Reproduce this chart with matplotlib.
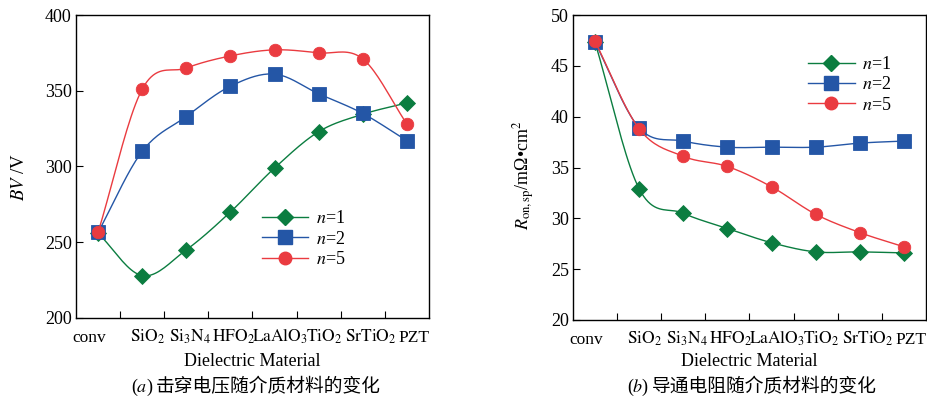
import numpy as np
import matplotlib
matplotlib.use("Agg")
import matplotlib.pyplot as plt
from matplotlib.transforms import ScaledTranslation

plt.rcParams['font.family'] = ['Liberation Serif', 'Noto Sans CJK SC']
plt.rcParams['mathtext.fontset'] = 'stix'
plt.rcParams['font.size'] = 13

# categories on the x axis
materials = ['conv', r'$\mathrm{SiO_2}$', r'$\mathrm{Si_3N_4}$', r'$\mathrm{HFO_2}$',
             r'$\mathrm{LaAlO_3}$', r'$\mathrm{TiO_2}$', r'$\mathrm{SrTiO_2}$', 'PZT']

# (a) breakdown voltage BV / V
bv_n1 = [256, 228, 245, 270, 299, 323, 334.5, 342]
bv_n2 = [256.5, 310, 333, 353, 361, 348, 335, 317]
bv_n5 = [256.5, 351, 365, 373, 377, 375, 371, 328]

# (b) specific on-resistance / mOhm*cm^2
ron_n1 = [47.3, 32.9, 30.5, 29.0, 27.6, 26.7, 26.7, 26.6]
ron_n2 = [47.3, 38.9, 37.6, 37.0, 37.0, 37.0, 37.4, 37.6]
ron_n5 = [47.4, 38.8, 36.1, 35.1, 33.1, 30.4, 28.6, 27.2]

series_names = [r'$n$=1', r'$n$=2', r'$n$=5']
colors = ['#0b7d40', '#2456a6', '#ea3b40']
markers = ['D', 's', 'o']
msizes = [8.5, 9.5, 9]

# small horizontal nudges (px) of the category labels, as in the original figure
label_shift = [-9, 5, 4, 3, 5, 5, 8, 7]


def smooth(x, y, k=20):
    """cubic hermite curve through the points (catmull-rom tangents)"""
    x = np.asarray(x, float)
    y = np.asarray(y, float)
    m = np.gradient(y, x)
    xs, ys = [], []
    for i in range(len(x) - 1):
        t = np.linspace(0, 1, k, endpoint=False)
        h = x[i + 1] - x[i]
        h00 = 2 * t**3 - 3 * t**2 + 1
        h10 = t**3 - 2 * t**2 + t
        h01 = -2 * t**3 + 3 * t**2
        h11 = t**3 - t**2
        ys.append(h00 * y[i] + h10 * h * m[i] + h01 * y[i + 1] + h11 * h * m[i + 1])
        xs.append(x[i] + t * h)
    xs.append([x[-1]])
    ys.append([y[-1]])
    return np.concatenate(xs), np.concatenate(ys)


fig = plt.figure(figsize=(9.28, 4.01), dpi=100)
ax1 = fig.add_axes([76 / 928, 1 - 318 / 401, 353 / 928, 303 / 401])
ax2 = fig.add_axes([573 / 928, 1 - 320 / 401, 353 / 928, 305 / 401])

xpos = np.arange(len(materials)) + 0.5


def draw(ax, data, ylim, yticks):
    for vals, name, c, mk, ms in zip(data, series_names, colors, markers, msizes):
        sx, sy = smooth(xpos, vals)
        ax.plot(sx, sy, color=c, lw=1.0)
        ax.plot(xpos, vals, linestyle='none', marker=mk, ms=ms, color=c,
                markeredgecolor=c, markeredgewidth=0.6)
        ax.plot([], [], color=c, lw=1.0, marker=mk, ms=ms, label=name)
    ax.set_xlim(0, len(materials))
    ax.set_ylim(*ylim)
    ax.set_yticks(yticks)
    ax.set_xticks(xpos, materials)
    ax.set_xticks(np.arange(1, len(materials)), minor=True)
    ax.tick_params(axis='x', which='major', length=0, pad=17, labelsize=12.5)
    ax.tick_params(axis='x', which='minor', direction='in', length=5, width=0.8)
    ax.tick_params(axis='y', direction='in', length=5, width=0.8, labelsize=13, pad=3)
    for lbl, dx in zip(ax.get_xticklabels(), label_shift):
        lbl.set_verticalalignment('baseline')
        lbl.set_transform(lbl.get_transform() + ScaledTranslation(dx / 100, 0, fig.dpi_scale_trans))
    for s in ax.spines.values():
        s.set_linewidth(1.0)


draw(ax1, [bv_n1, bv_n2, bv_n5], (200, 400), [200, 250, 300, 350, 400])
draw(ax2, [ron_n1, ron_n2, ron_n5], (20, 50), [20, 25, 30, 35, 40, 45, 50])

ax1.legend(loc='upper left', bbox_to_anchor=(0.5, 0.385), frameon=False,
           fontsize=13, handlelength=2.6, handletextpad=0.4, labelspacing=0.18,
           borderpad=0)
ax2.legend(loc='upper left', bbox_to_anchor=(0.64, 0.895), frameon=False,
           fontsize=13, handlelength=2.6, handletextpad=0.4, labelspacing=0.18,
           borderpad=0)

fig.text(20 / 928, 1 - 177 / 401, r'$BV$ /V', rotation=90, ha='center', va='center', fontsize=13.5)
fig.text(524 / 928, 1 - 175 / 401, r'$R_{\mathrm{on,sp}}$/mΩ•cm$^2$', rotation=90,
         ha='center', va='center', fontsize=13)

fig.text(252 / 928, 1 - 362 / 401, 'Dielectric Material', ha='center', va='center', fontsize=13)
fig.text(749 / 928, 1 - 362 / 401, 'Dielectric Material', ha='center', va='center', fontsize=13)

# captions: "(a)" in serif italic, Chinese part in a CJK font
cap_y = 1 - 387 / 401
fig.text(153 / 928, cap_y, r'($a$)', ha='right', va='center', fontsize=13)
fig.text(156 / 928, cap_y, '击穿电压随介质材料的变化', ha='left', va='center', fontsize=13.5,
         family=['Noto Sans CJK SC'])
fig.text(649 / 928, cap_y, r'($b$)', ha='right', va='center', fontsize=13)
fig.text(652 / 928, cap_y, '导通电阻随介质材料的变化', ha='left', va='center', fontsize=13.5,
         family=['Noto Sans CJK SC'])

fig.savefig('out.png', dpi=100)
